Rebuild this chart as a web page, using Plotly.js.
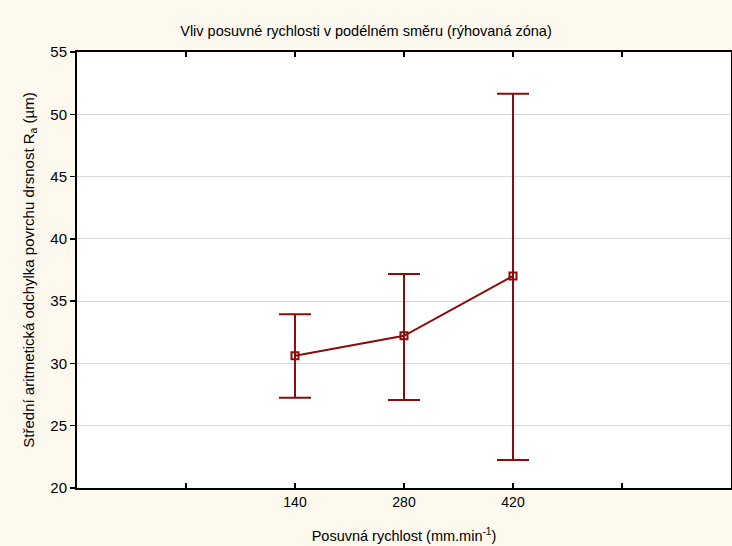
<!DOCTYPE html>
<html><head><meta charset="utf-8">
<script src="https://cdn.plot.ly/plotly-3.0.1.min.js"></script>
<style>html,body{margin:0;padding:0;background:#fdf9ee;}</style>
</head><body>
<div id="chart" style="width:732px;height:546px;"></div>
<script>
const categories = ['140', '280', '420'];
const means = [30.62, 32.22, 37.02];
const upper = [33.95, 37.17, 51.65];
const lower = [27.24, 27.06, 22.24];
const yTicks = [20, 25, 30, 35, 40, 45, 50, 55];

const xIdx = categories.map((c, i) => i);
const errPlus = means.map((m, i) => upper[i] - m);
const errMinus = means.map((m, i) => m - lower[i]);
const col = '#8c0b0b';
const ff = 'Liberation Sans, Arial, sans-serif';

const trace = {
  x: xIdx, y: means, type: 'scatter', mode: 'lines+markers',
  line: {color: col, width: 2},
  marker: {symbol: 'square-open', size: 7, color: col, line: {width: 2, color: col}},
  error_y: {type: 'data', symmetric: false, array: errPlus, arrayminus: errMinus,
            color: col, thickness: 2, width: 16},
  hoverinfo: 'skip'
};

const layout = {
  width: 732, height: 546,
  paper_bgcolor: '#fdf9ee', plot_bgcolor: '#ffffff',
  margin: {l: 77, r: 1, t: 52, b: 58},
  showlegend: false,
  font: {family: ff, color: '#000', size: 14},
  title: {text: 'Vliv posuvné rychlosti v podélném směru (rýhovaná zóna)',
          font: {size: 14.5, family: ff},
          x: 0.5, xanchor: 'center', y: 0.943, yanchor: 'middle'},
  xaxis: {
    range: [-2, 4], tickmode: 'array', tickvals: [-1, 0, 1, 2, 3],
    ticktext: ['', categories[0], categories[1], categories[2], ''],
    ticks: 'inside', ticklen: 5, tickwidth: 1.5, tickcolor: '#000',
    showline: true, linecolor: '#000', linewidth: 2, mirror: 'ticks',
    showgrid: false, zeroline: false,
    tickfont: {size: 14, family: ff},
    title: {text: 'Posuvná rychlost (mm.min<sup>-1</sup>)', standoff: 22,
            font: {size: 14.5, family: ff}}
  },
  yaxis: {
    range: [20, 55], tickmode: 'array', tickvals: yTicks,
    ticks: 'outside', ticklen: 5, tickwidth: 1.5, tickcolor: '#000',
    showline: true, linecolor: '#000', linewidth: 2, mirror: true,
    showgrid: true, gridcolor: '#d9d9d9', gridwidth: 1, zeroline: false,
    tickfont: {size: 15, family: ff},
    title: {text: 'Střední aritmetická odchylka povrchu drsnost R<sub>a</sub> (µm)', standoff: 12,
            font: {size: 15, family: ff}}
  }
};

Plotly.newPlot('chart', [trace], layout, {displayModeBar: false, staticPlot: true});
</script>
</body></html>
